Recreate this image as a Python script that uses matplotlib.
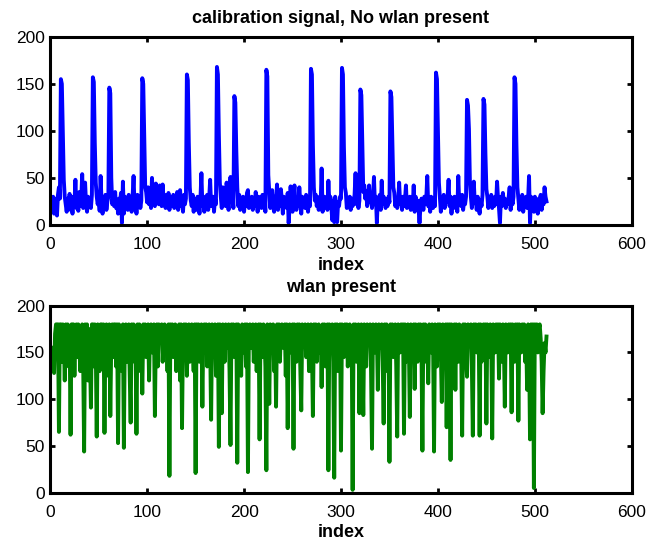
import matplotlib
matplotlib.use("Agg")
import matplotlib.pyplot as plt
import numpy as np

plt.rcParams['font.family'] = ['Liberation Sans', 'DejaVu Sans']

# calibration signal, no wlan (512 samples)
calib = [
    26, 18, 30, 12, 28, 22, 10, 32, 40, 28, 155, 150, 100, 48, 30, 22,
    14, 28, 20, 33, 16, 25, 12, 30, 22, 48, 18, 28, 15, 35, 20, 26,
    54, 18, 30, 45, 22, 14, 30, 20, 28, 18, 32, 157, 152, 87, 45, 30,
    22, 30, 15, 52, 24, 12, 28, 20, 32, 16, 25, 30, 146, 140, 50, 22,
    30, 20, 35, 18, 26, 12, 28, 22, 34, 2, 46, 12, 30, 20, 26, 16,
    32, 18, 25, 14, 30, 52, 20, 28, 12, 32, 22, 30, 18, 26, 156, 150,
    93, 40, 35, 24, 40, 22, 32, 18, 50, 26, 36, 20, 44, 28, 38, 22,
    42, 30, 20, 43, 26, 32, 18, 28, 22, 34, 16, 30, 24, 20, 32, 18,
    28, 22, 35, 16, 30, 37, 20, 26, 14, 32, 22, 28, 160, 154, 87, 40,
    26, 20, 32, 14, 28, 22, 16, 30, 24, 12, 28, 55, 20, 26, 14, 30,
    22, 32, 16, 28, 48, 20, 26, 30, 14, 28, 22, 168, 160, 96, 45, 30,
    18, 40, 26, 32, 20, 45, 28, 16, 34, 51, 24, 30, 18, 137, 130, 79,
    40, 20, 32, 16, 28, 22, 30, 14, 26, 20, 34, 37, 18, 28, 22, 30,
    16, 26, 20, 35, 24, 14, 30, 22, 28, 18, 32, 20, 26, 14, 165, 158,
    53, 35, 18, 28, 37, 20, 14, 30, 24, 43, 16, 28, 20, 38, 26, 12,
    30, 22, 28, 18, 34, 2, 20, 41, 26, 14, 30, 42, 22, 16, 28, 20,
    40, 24, 12, 30, 20, 26, 18, 32, 22, 14, 28, 20, 166, 160, 85, 40,
    26, 32, 20, 28, 16, 30, 22, 60, 14, 26, 30, 20, 28, 16, 47, 22,
    30, 20, 5, 26, 3, 30, 18, 3, 24, 20, 30, 28, 167, 160, 83, 40,
    34, 18, 26, 22, 30, 16, 28, 20, 24, 32, 55, 22, 30, 18, 26, 144,
    138, 88, 35, 42, 28, 36, 20, 30, 42, 24, 30, 18, 28, 51, 22, 30,
    2, 28, 20, 32, 16, 47, 22, 30, 28, 18, 26, 20, 30, 24, 142, 136,
    87, 40, 34, 20, 28, 18, 26, 45, 22, 28, 16, 30, 20, 26, 42, 18,
    28, 22, 30, 16, 24, 20, 42, 14, 30, 22, 26, 18, 2, 20, 28, 24,
    16, 30, 22, 28, 52, 20, 26, 14, 30, 22, 18, 28, 20, 162, 155, 97,
    45, 30, 14, 26, 22, 32, 18, 28, 24, 30, 48, 20, 30, 12, 26, 22,
    30, 18, 26, 14, 52, 22, 28, 20, 32, 16, 26, 22, 30, 133, 127, 102,
    45, 30, 18, 26, 46, 24, 28, 16, 30, 20, 12, 26, 20, 32, 134, 128,
    76, 38, 30, 18, 26, 20, 32, 18, 26, 20, 30, 22, 46, 28, 18, 2,
    30, 20, 34, 24, 28, 18, 26, 22, 30, 40, 16, 28, 22, 30, 157, 150,
    85, 40, 28, 16, 26, 20, 32, 14, 28, 22, 30, 18, 26, 52, 2, 30,
    20, 28, 14, 30, 22, 26, 12, 28, 20, 32, 16, 26, 22, 40, 30, 25,
]

# wlan present
wlan = [
    155, 130, 150, 128, 170, 180, 180, 180, 65, 180, 180, 140, 180, 165, 120, 180,
    150, 180, 135, 170, 62, 180, 180, 180, 125, 170, 180, 145, 180, 160, 130, 175,
    180, 140, 44, 180, 165, 180, 120, 175, 150, 91, 180, 180, 135, 180, 155, 60,
    180, 165, 130, 180, 180, 140, 180, 64, 170, 180, 150, 125, 180, 82, 160, 180,
    145, 180, 180, 135, 180, 53, 180, 160, 175, 130, 180, 48, 170, 180, 140, 165,
    180, 125, 75, 180, 160, 180, 140, 170, 63, 180, 155, 180, 130, 175, 106, 180,
    165, 180, 145, 170, 180, 120, 175, 180, 150, 165, 180, 82, 170, 180, 135, 180,
    160, 175, 180, 140, 165, 180, 155, 170, 130, 180, 18, 180, 165, 180, 145, 170,
    180, 130, 175, 160, 180, 120, 180, 69, 170, 180, 150, 180, 125, 165, 180, 140,
    175, 180, 155, 130, 180, 21, 180, 165, 180, 140, 170, 180, 92, 175, 180, 150,
    180, 135, 170, 180, 160, 78, 180, 145, 175, 180, 125, 165, 180, 49, 180, 160,
    85, 180, 170, 140, 180, 155, 175, 180, 130, 51, 180, 165, 180, 145, 170, 180,
    32, 180, 160, 175, 125, 180, 150, 170, 180, 135, 180, 22, 175, 180, 155, 165,
    180, 140, 170, 180, 130, 175, 180, 57, 180, 160, 145, 180, 170, 135, 24, 180,
    165, 95, 180, 175, 150, 180, 130, 170, 92, 180, 160, 180, 140, 175, 180, 155,
    170, 180, 125, 180, 69, 165, 180, 150, 175, 180, 47, 180, 160, 140, 180, 170,
    180, 135, 88, 180, 165, 175, 180, 145, 160, 180, 130, 175, 180, 155, 82, 180,
    170, 180, 140, 165, 180, 150, 175, 113, 180, 160, 180, 135, 170, 180, 24, 180,
    155, 175, 180, 140, 16, 180, 165, 180, 130, 170, 180, 45, 180, 160, 145, 180,
    175, 180, 135, 165, 180, 150, 170, 3, 180, 160, 180, 140, 175, 180, 85, 165,
    180, 150, 83, 180, 170, 135, 180, 160, 175, 180, 130, 47, 180, 165, 150, 180,
    170, 110, 180, 155, 175, 180, 140, 74, 180, 165, 180, 130, 170, 33, 180, 160,
    180, 145, 175, 180, 135, 60, 180, 165, 150, 180, 170, 180, 63, 180, 140, 175,
    180, 160, 81, 180, 150, 170, 180, 111, 180, 165, 140, 180, 175, 180, 155, 45,
    180, 170, 180, 140, 165, 117, 180, 175, 150, 180, 160, 44, 180, 170, 135, 180,
    165, 180, 150, 97, 180, 175, 140, 180, 70, 180, 165, 180, 35, 180, 155, 170,
    180, 110, 180, 165, 140, 180, 175, 150, 61, 180, 170, 180, 145, 124, 180, 160,
    175, 180, 135, 61, 180, 165, 180, 150, 170, 180, 61, 180, 140, 175, 180, 160,
    180, 74, 180, 170, 145, 180, 165, 58, 180, 175, 150, 180, 160, 180, 122, 180,
    170, 140, 180, 160, 92, 180, 175, 150, 180, 165, 180, 86, 180, 170, 140, 180,
    160, 180, 77, 180, 175, 150, 180, 165, 180, 140, 170, 110, 180, 160, 57, 180,
    175, 180, 5, 180, 170, 180, 150, 175, 180, 165, 140, 85, 130, 160, 150, 167,
]

xticks = [0, 100, 200, 300, 400, 500, 600]
yticks = [0, 50, 100, 150, 200]


def style_axes(ax, title):
    ax.set_xlim(0, 600)
    ax.set_ylim(0, 200)
    ax.set_xticks(xticks)
    ax.set_yticks(yticks)
    for s in ax.spines.values():
        s.set_linewidth(2.2)
    ax.tick_params(direction='in', length=3.5, width=2, labelsize=12.5,
                   top=True, right=True)
    ax.tick_params(axis='x', pad=9)
    ax.tick_params(axis='y', pad=4)
    ax.set_title(title, fontsize=13, fontweight='bold', pad=10)
    ax.set_xlabel('index', fontsize=13, fontweight='bold', labelpad=3)


fig = plt.figure(figsize=(6.52, 5.42), dpi=100)
ax1 = fig.add_axes([0.077, 0.585, 0.892, 0.347])
ax2 = fig.add_axes([0.077, 0.091, 0.892, 0.345])

n = np.arange(1, len(calib) + 1)
ax1.plot(n, calib, color=(0, 0, 1), lw=2.8)
style_axes(ax1, 'calibration signal, No wlan present')

ax2.plot(np.arange(1, len(wlan) + 1), wlan, color=(0, 0.5, 0), lw=2.8)
style_axes(ax2, 'wlan present')

fig.savefig('out.png', dpi=100)
